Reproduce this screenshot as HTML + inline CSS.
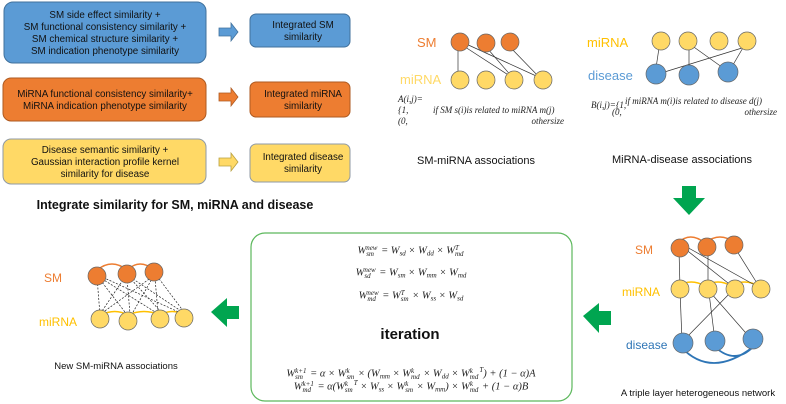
<!DOCTYPE html>
<html><head><meta charset="utf-8"><style>
body{margin:0;background:#fff;position:relative;width:786px;height:404px;overflow:hidden}
svg{display:block;font-family:"Liberation Sans",sans-serif}
.m{font-family:"Liberation Serif",serif;font-style:italic;font-size:9px;fill:#222}
.b{font-size:9.8px;fill:#111;text-anchor:middle}
.f{position:absolute;left:252px;width:318px;text-align:center;font-family:"Liberation Serif",serif;font-style:italic;font-size:10.5px;color:#222;white-space:nowrap;line-height:12px}
.ss{display:inline-block;vertical-align:middle;line-height:6px;font-size:7px;text-align:left;margin-right:1px}
.ss span{display:block}
.s{font-size:7px;vertical-align:-2px}
</style></head><body>
<svg width="786" height="404" viewBox="0 0 786 404">
<rect x="4" y="2" width="202" height="61" rx="9" fill="#5b9bd5" stroke="#41719c"/>
<text class="b"><tspan x="105" y="18">SM side effect similarity +</tspan><tspan x="105" y="30">SM functional consistency similarity +</tspan><tspan x="105" y="42">SM chemical structure similarity +</tspan><tspan x="105" y="54">SM indication phenotype similarity</tspan></text>
<rect x="3" y="78" width="203" height="43" rx="8" fill="#ed7d31" stroke="#ae5a21"/>
<text class="b"><tspan x="105" y="97">MiRNA functional consistency similarity+</tspan><tspan x="105" y="109">MiRNA indication phenotype similarity</tspan></text>
<rect x="3" y="139" width="203" height="45" rx="8" fill="#ffd966" stroke="#8f9aa5"/>
<text class="b"><tspan x="105" y="153">Disease semantic similarity +</tspan><tspan x="105" y="165">Gaussian interaction profile kernel</tspan><tspan x="105" y="177">similarity for disease</tspan></text>
<g stroke="#41719c" stroke-width="0.8">
<path d="M219 28h12v-5l7 9-7 9v-5h-12z" fill="#5b9bd5"/>
<path d="M219 93h12v-5l7 9-7 9v-5h-12z" fill="#ed7d31" stroke="#ae5a21"/>
<path d="M219 158h12v-5l7 9-7 9v-5h-12z" fill="#ffd966" stroke="#b8a040"/>
</g>
<rect x="250" y="14" width="100" height="33" rx="6" fill="#5b9bd5" stroke="#41719c"/>
<text class="b"><tspan x="303" y="28">Integrated SM</tspan><tspan x="303" y="40">similarity</tspan></text>
<rect x="250" y="82" width="100" height="35" rx="6" fill="#ed7d31" stroke="#ae5a21"/>
<text class="b"><tspan x="303" y="97">Integrated miRNA</tspan><tspan x="303" y="109">similarity</tspan></text>
<rect x="250" y="144" width="100" height="38" rx="6" fill="#ffd966" stroke="#8f9aa5"/>
<text class="b"><tspan x="303" y="160">Integrated disease</tspan><tspan x="303" y="172">similarity</tspan></text>
<text x="175" y="209" font-size="12.5" font-weight="bold" text-anchor="middle" fill="#111">Integrate similarity for SM, miRNA and disease</text>

<g stroke="#333" stroke-width="0.7">
<line x1="458" y1="42" x2="458" y2="80"/><line x1="462" y1="45" x2="513" y2="78"/><line x1="464" y1="43" x2="545" y2="80"/><line x1="487" y1="48" x2="513" y2="78"/><line x1="509" y1="46" x2="541" y2="79"/>
</g>
<g stroke="#666" stroke-width="0.7">
<circle cx="460" cy="42" r="9" fill="#ed7d31"/><circle cx="486" cy="43" r="9" fill="#ed7d31"/><circle cx="510" cy="42" r="9" fill="#ed7d31"/>
<circle cx="460" cy="80" r="9" fill="#ffd966"/><circle cx="486" cy="80" r="9" fill="#ffd966"/><circle cx="514" cy="80" r="9" fill="#ffd966"/><circle cx="543" cy="80" r="9" fill="#ffd966"/>
</g>
<text x="417" y="47" font-size="13" fill="#ed7d31">SM</text>
<text x="400" y="84" font-size="13" fill="#ffd966">miRNA</text>
<text class="m" font-size="7"><tspan x="398" y="102">A(i,j)=</tspan><tspan x="398" y="113">{1,</tspan><tspan x="433" y="113">if SM s(i)is related to miRNA m(j)</tspan><tspan x="398" y="124">(0,</tspan><tspan x="564" y="124" text-anchor="end">othersize</tspan></text>
<text x="476" y="164" font-size="11" text-anchor="middle" fill="#111">SM-miRNA associations</text>

<g stroke="#333" stroke-width="0.7">
<line x1="659" y1="48" x2="656" y2="68"/><line x1="658" y1="74" x2="742" y2="48"/><line x1="689" y1="48" x2="689" y2="70"/><line x1="691" y1="45" x2="726" y2="70"/><line x1="744" y1="46" x2="730" y2="70"/>
</g>
<g stroke="#666" stroke-width="0.7">
<circle cx="661" cy="41" r="9" fill="#ffd966"/><circle cx="688" cy="41" r="9" fill="#ffd966"/><circle cx="719" cy="41" r="9" fill="#ffd966"/><circle cx="747" cy="41" r="9" fill="#ffd966"/>
<circle cx="656" cy="74" r="10" fill="#5b9bd5"/><circle cx="689" cy="75" r="10" fill="#5b9bd5"/><circle cx="728" cy="72" r="10" fill="#5b9bd5"/>
</g>
<text x="587" y="47" font-size="13" fill="#ffc000">miRNA</text>
<text x="588" y="80" font-size="13" fill="#5b9bd5">disease</text>
<text class="m" font-size="7"><tspan x="591" y="108">B(i,j)={1,</tspan><tspan x="625" y="104">if miRNA m(i)is related to disease d(j)</tspan><tspan x="612" y="115">(0,</tspan><tspan x="777" y="115" text-anchor="end">othersize</tspan></text>
<text x="682" y="163" font-size="11" text-anchor="middle" fill="#111">MiRNA-disease associations</text>

<path d="M682 186h14v12h9l-16 17-16-17h9z" fill="#00a550"/>
<path d="M583 316l16-13v8h12v14h-12v8z" fill="#00a550"/>
<path d="M211 312l16-14v8h12v13h-12v8z" fill="#00a550"/>

<g fill="none" stroke-width="1.4">
<path d="M678 243q12-12 27 0M705 243q15-12 30 0" stroke="#ed7d31"/>
<path d="M678 286q13-8 27 0M705 286q13-8 26 0M731 286q13-8 28 0" stroke="#ffc000"/>
<path d="M681 347q30 32 72 0M715 347q20 18 38 0" stroke="#2e75b6" stroke-width="1.8"/>
</g>
<g stroke="#333" stroke-width="0.7">
<line x1="679" y1="250" x2="680" y2="288"/><line x1="684" y1="248" x2="733" y2="287"/><line x1="685" y1="246" x2="760" y2="288"/><line x1="708" y1="248" x2="708" y2="288"/><line x1="735" y1="248" x2="760" y2="288"/><line x1="680" y1="290" x2="682" y2="341"/><line x1="684" y1="340" x2="733" y2="290"/><line x1="709" y1="293" x2="715" y2="341"/><line x1="710" y1="292" x2="752" y2="340"/>
</g>
<g stroke="#666" stroke-width="0.7">
<circle cx="680" cy="248" r="9" fill="#ed7d31"/><circle cx="707" cy="247" r="9" fill="#ed7d31"/><circle cx="734" cy="245" r="9" fill="#ed7d31"/>
<circle cx="680" cy="289" r="9" fill="#ffd966"/><circle cx="708" cy="289" r="9" fill="#ffd966"/><circle cx="735" cy="289" r="9" fill="#ffd966"/><circle cx="761" cy="289" r="9" fill="#ffd966"/>
<circle cx="683" cy="343" r="10" fill="#5b9bd5"/><circle cx="715" cy="341" r="10" fill="#5b9bd5"/><circle cx="753" cy="339" r="10" fill="#5b9bd5"/>
</g>
<text x="635" y="254" font-size="12" fill="#ed7d31">SM</text>
<text x="622" y="296" font-size="12" fill="#ffc000">miRNA</text>
<text x="626" y="349" font-size="12" fill="#2e75b6">disease</text>
<text x="698" y="396" font-size="9.5" text-anchor="middle" fill="#111">A triple layer heterogeneous network</text>

<rect x="251" y="233" width="321" height="168" rx="14" fill="#fff" stroke="#5cb85c" stroke-width="1.2"/>
<text x="410" y="339" font-size="15" font-weight="bold" text-anchor="middle" fill="#111">iteration</text>

<g fill="none" stroke-width="1.4">
<path d="M97 270q15-12 30 0M127 270q13-12 27 0" stroke="#ed7d31"/>
<path d="M101 315q14-7 27 0M128 315q16-7 32 0M160 315q12-7 25 0" stroke="#ffc000"/>
</g>
<g stroke="#222" stroke-width="0.7" stroke-dasharray="2,1.5">
<line x1="97" y1="277" x2="100" y2="315"/><line x1="98" y1="277" x2="128" y2="316"/><line x1="99" y1="277" x2="160" y2="315"/><line x1="100" y1="276" x2="183" y2="314"/>
<line x1="125" y1="277" x2="100" y2="314"/><line x1="127" y1="278" x2="130" y2="314"/><line x1="129" y1="277" x2="162" y2="313"/><line x1="130" y1="277" x2="184" y2="313"/>
<line x1="152" y1="277" x2="102" y2="313"/><line x1="153" y1="277" x2="132" y2="314"/><line x1="155" y1="278" x2="158" y2="313"/><line x1="157" y1="276" x2="184" y2="312"/>
</g>
<g stroke="#666" stroke-width="0.7">
<circle cx="97" cy="276" r="9" fill="#ed7d31"/><circle cx="127" cy="274" r="9" fill="#ed7d31"/><circle cx="154" cy="272" r="9" fill="#ed7d31"/>
<circle cx="100" cy="319" r="9" fill="#ffd966"/><circle cx="128" cy="321" r="9" fill="#ffd966"/><circle cx="160" cy="319" r="9" fill="#ffd966"/><circle cx="184" cy="318" r="9" fill="#ffd966"/>
</g>
<text x="44" y="282" font-size="12" fill="#ed7d31">SM</text>
<text x="39" y="326" font-size="12" fill="#ffc000">miRNA</text>
<text x="116" y="369" font-size="9.5" text-anchor="middle" fill="#111">New SM-miRNA associations</text>
</svg>

<div class="f" style="top:245px">W<span class="ss"><span>new</span><span>sm</span></span> = W<span class="s">sd</span> × W<span class="s">dd</span> × W<span class="ss"><span>T</span><span>md</span></span></div>
<div class="f" style="top:267px">W<span class="ss"><span>new</span><span>sd</span></span> = W<span class="s">sm</span> × W<span class="s">mm</span> × W<span class="s">md</span></div>
<div class="f" style="top:290px">W<span class="ss"><span>new</span><span>md</span></span> = W<span class="ss"><span>T</span><span>sm</span></span> × W<span class="s">ss</span> × W<span class="s">sd</span></div>
<div class="f" style="top:364px">W<span class="ss"><span>k+1</span><span>sm</span></span> = α × W<span class="ss"><span>k</span><span>sm</span></span> × (W<span class="s">mm</span> × W<span class="ss"><span>k</span><span>md</span></span> × W<span class="s">dd</span> × W<span class="ss"><span>k</span><span>md</span></span><sup style="font-size:7px">T</sup>) + (1 − α)A</div>
<div class="f" style="top:377px">W<span class="ss"><span>k+1</span><span>md</span></span> = α(W<span class="ss"><span>k</span><span>sm</span></span><sup style="font-size:7px">T</sup> × W<span class="s">ss</span> × W<span class="ss"><span>k</span><span>sm</span></span> × W<span class="s">mm</span>) × W<span class="ss"><span>k</span><span>md</span></span> + (1 − α)B</div>
</body></html>
